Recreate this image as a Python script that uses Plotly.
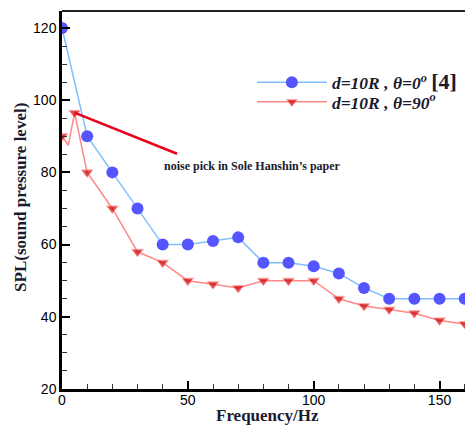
import plotly.graph_objects as go

# Data
freq_blue = [0, 10, 20, 30, 40, 50, 60, 70, 80, 90, 100, 110, 120, 130, 140, 150, 160]
spl_blue = [120, 90, 80, 70, 60, 60, 61, 62, 55, 55, 54, 52, 48, 45, 45, 45, 45]

freq_red = [0, 2.5, 5, 10, 20, 30, 40, 50, 60, 70, 80, 90, 100, 110, 120, 130, 140, 150, 160]
spl_red = [90, 87.5, 96.5, 80, 70, 58, 55, 50, 49, 48, 50, 50, 50, 45, 43, 42, 41, 39, 38]
red_marker_shown = [1, 0, 1, 1, 1, 1, 1, 1, 1, 1, 1, 1, 1, 1, 1, 1, 1, 1, 1]

x_ticks = [0, 50, 100, 150]
y_ticks = [20, 40, 60, 80, 100, 120]

label_blue = "<i>d=10R , θ=0<sup>o</sup></i> <span style='font-size:22px'>[4]</span>"
label_red = "<i>d=10R , θ=90<sup>o</sup></i>"
note_text = "noise pick in Sole Hanshin\u2019s paper"
x_title = "Frequency/Hz"
y_title = "SPL(sound pressure level)"

SERIF = "Liberation Serif"
SANS = "Liberation Sans"
DARK = "#1a1a2e"

fig = go.Figure()
fig.add_trace(go.Scatter(
    x=freq_blue, y=spl_blue, mode="lines+markers", name=label_blue, legend="legend",
    line=dict(color="#80bfff", width=1.5),
    marker=dict(symbol="circle", size=12, color="#5555ff"),
))
fig.add_trace(go.Scatter(
    x=freq_red, y=spl_red, mode="lines+markers", name=label_red, legend="legend2",
    line=dict(color="#ff8888", width=1.5),
    marker=dict(symbol="triangle-down", size=[10 * s for s in red_marker_shown], color="#cc0000"),
))

# Annotation arrow and note
fig.add_annotation(
    x=5.2, y=96.5, ax=46.3, ay=85, xref="x", yref="y", axref="x", ayref="y",
    showarrow=True, arrowhead=0, arrowwidth=2.5, arrowcolor="#e8001c", text="",
)
fig.add_annotation(
    x=39.8, y=81.8, xref="x", yref="y", text="<b>" + note_text + "</b>",
    showarrow=False, xanchor="left", yanchor="middle",
    font=dict(family=SERIF, size=12, color=DARK),
)

# Axis titles
fig.add_annotation(
    x=0.5, y=-0.071, xref="paper", yref="paper", text="<b>" + x_title + "</b>",
    showarrow=False, xanchor="center", yanchor="middle",
    font=dict(family=SERIF, size=17, color=DARK),
)
fig.add_annotation(
    x=-0.1, y=0.508, xref="paper", yref="paper", text="<b>" + y_title + "</b>",
    showarrow=False, xanchor="center", yanchor="middle", textangle=-90,
    font=dict(family=SERIF, size=17, color=DARK),
)

# top frame line
fig.add_shape(type="line", xref="paper", yref="paper", x0=0, x1=1, y0=1, y1=1,
              line=dict(color="#222222", width=2))

legend_font = dict(family=SERIF, size=17.5, color=DARK, weight="bold")

# page body has an 8px margin, so the figure is 8px smaller
fig.update_layout(
    width=465, height=418,
    margin=dict(l=54, r=0, t=3, b=37),
    paper_bgcolor="white", plot_bgcolor="white",
    showlegend=True,
    legend=dict(
        x=0.462, y=0.859, xanchor="left", yanchor="top",
        bgcolor="rgba(0,0,0,0)", itemwidth=70, font=legend_font,
    ),
    legend2=dict(
        x=0.462, y=0.807, xanchor="left", yanchor="top",
        bgcolor="rgba(0,0,0,0)", itemwidth=70, font=legend_font,
    ),
    xaxis=dict(
        range=[0, 163.3], showgrid=False, zeroline=False, automargin=False,
        showline=True, linecolor="black", linewidth=3,
        tickmode="array", tickvals=x_ticks,
        ticks="inside", ticklen=8, tickwidth=2, tickcolor="black",
        minor=dict(dtick=10, ticks="inside", ticklen=5, tickwidth=1, tickcolor="#333333"),
        tickfont=dict(family=SANS, size=14, color="black"),
        ticklabelstandoff=-4,
    ),
    yaxis=dict(
        range=[20, 124.7], showgrid=False, zeroline=False, automargin=False,
        showline=True, linecolor="black", linewidth=2.5,
        tickmode="array", tickvals=y_ticks,
        ticks="inside", ticklen=8, tickwidth=2, tickcolor="black",
        minor=dict(dtick=5, ticks="inside", ticklen=5, tickwidth=1, tickcolor="#333333"),
        tickfont=dict(family=SANS, size=14, color="black"),
    ),
)

fig.write_html("out.html")
